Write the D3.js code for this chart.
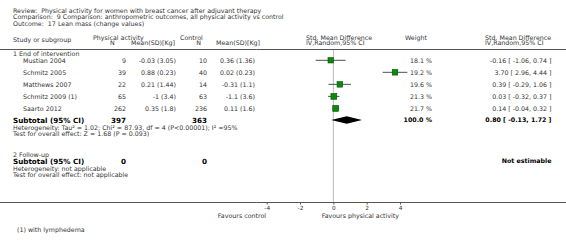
<!DOCTYPE html>
<html>
<head>
<meta charset="utf-8">
<script src="https://cdn.jsdelivr.net/npm/d3@7"></script>
<style>
  body { margin: 0; background: #fff; }
  svg { display: block; font-family: "DejaVu Sans", sans-serif; }
</style>
</head>
<body>
<svg id="chart" width="566" height="245"></svg>
<script>
// study rows
var studies = ["Mustian 2004", "Schmitz 2005", "Matthews 2007", "Schmitz 2009 (1)", "Saarto 2012"];
var paN = [9, 39, 22, 65, 262];
var paMean = ["-0.03 (3.05)", "0.88 (0.23)", "0.21 (1.44)", "-1 (3.4)", "0.35 (1.8)"];
var ctN = [10, 40, 14, 63, 236];
var ctMean = ["0.36 (1.36)", "0.02 (0.23)", "-0.31 (1.1)", "-1.1 (3.6)", "0.11 (1.6)"];
var weights = [18.1, 19.2, 19.6, 21.3, 21.7];
var smd = [-0.16, 3.70, 0.39, 0.03, 0.14];
var ciLow = [-1.06, 2.96, -0.29, -0.32, -0.04];
var ciHigh = [0.74, 4.44, 1.06, 0.37, 0.32];
var ciText = ["-0.16 [ -1.06, 0.74 ]", "3.70 [ 2.96, 4.44 ]", "0.39 [ -0.29, 1.06 ]", "0.03 [ -0.32, 0.37 ]", "0.14 [ -0.04, 0.32 ]"];

// pooled
var total = {paN: 397, ctN: 363, est: 0.80, lo: -0.13, hi: 1.72, text: "0.80 [ -0.13, 1.72 ]"};
var axisTicks = [-4, -2, 0, 2, 4];

var svg = d3.select("#chart");
var ink = "#333";
var base = 6.3;

var x = d3.scaleLinear().domain([-4, 4]).range([266.7, 400]);
var rowY = d3.scaleLinear().domain([0, 4]).range([60.3, 108.4]);

function txt(xp, yp, s, opts) {
    opts = opts || {};
    return svg.append("text")
        .attr("x", xp)
        .attr("y", yp)
        .attr("dy", "0.35em")
        .attr("font-size", opts.size || base)
        .attr("font-weight", opts.bold ? "bold" : "normal")
        .attr("text-anchor", opts.anchor || "start")
        .attr("fill", opts.color || ink)
        .attr("xml:space", "preserve")
        .text(s);
}

// title block
txt(13, 10.8, "Review:  Physical activity for women with breast cancer after adjuvant therapy");
txt(13, 17, "Comparison:  9 Comparison: anthropometric outcomes, all physical activity vs control");
txt(13, 23.3, "Outcome:  17 Lean mass (change values)");

// column headers
txt(13, 39.3, "Study or subgroup");
txt(93, 37.3, "Physical activity");
txt(112.3, 43, "N", {anchor: "middle"});
txt(175, 43, "Mean(SD)[Kg]", {anchor: "end"});
txt(180, 37.3, "Control");
txt(198.7, 43, "N", {anchor: "middle"});
txt(260, 43, "Mean(SD)[Kg]", {anchor: "end"});
txt(306, 37.3, "Std. Mean Difference");
txt(306, 43, "IV,Random,95% CI");
txt(405, 37.3, "Weight");
txt(485, 37.3, "Std. Mean Difference");
txt(485, 43, "IV,Random,95% CI");

svg.append("line")
    .attr("x1", 0).attr("x2", 566)
    .attr("y1", 49.5).attr("y2", 49.5)
    .attr("stroke", "#555").attr("stroke-width", 1);

// zero line
svg.append("line")
    .attr("x1", x(0)).attr("x2", x(0))
    .attr("y1", 50).attr("y2", 202)
    .attr("stroke", "#bbb").attr("stroke-width", 1);

// group 1
txt(13, 53.5, "1 End of intervention");

studies.forEach(function(s, i) {
    var y = rowY(i);
    txt(23, y, s);
    txt(126, y, paN[i], {anchor: "end"});
    txt(176, y, paMean[i], {anchor: "end"});
    txt(207, y, ctN[i], {anchor: "end"});
    txt(255, y, ctMean[i], {anchor: "end"});
    txt(432, y, weights[i].toFixed(1) + " %", {anchor: "end"});
    txt(551.5, y, ciText[i], {anchor: "end"});
});

var rows = svg.append("g");
rows.selectAll("line.ci")
    .data(studies)
    .enter()
    .append("line")
    .attr("class", "ci")
    .attr("x1", function(d, i) { return x(ciLow[i]); })
    .attr("x2", function(d, i) { return x(ciHigh[i]); })
    .attr("y1", function(d, i) { return rowY(i); })
    .attr("y2", function(d, i) { return rowY(i); })
    .attr("stroke", "#222")
    .attr("stroke-width", 0.8);

var boxSize = function(w) { return 12.6 * Math.sqrt(w / 100); };
rows.selectAll("rect")
    .data(studies)
    .enter()
    .append("rect")
    .attr("x", function(d, i) { return x(smd[i]) - boxSize(weights[i]) / 2; })
    .attr("y", function(d, i) { return rowY(i) - boxSize(weights[i]) / 2; })
    .attr("width", function(d, i) { return boxSize(weights[i]); })
    .attr("height", function(d, i) { return boxSize(weights[i]); })
    .attr("fill", "#0a8a0a")
    .attr("stroke", "#064f06")
    .attr("stroke-width", 0.6);

// subtotal group 1
var sy = 120;
txt(13, sy, "Subtotal (95% CI)", {bold: true, size: 7.2, color: "#000"});
txt(126, sy, total.paN, {bold: true, size: 7.2, anchor: "end", color: "#000"});
txt(207, sy, total.ctN, {bold: true, size: 7.2, anchor: "end", color: "#000"});
txt(432, sy, "100.0 %", {bold: true, anchor: "end", color: "#000"});
txt(551.5, sy, total.text, {bold: true, anchor: "end", color: "#000"});

svg.append("path")
    .attr("d", "M" + x(total.lo) + "," + sy +
        "L" + x(total.est) + "," + (sy - 3.8) +
        "L" + x(total.hi) + "," + sy +
        "L" + x(total.est) + "," + (sy + 3.8) + "Z")
    .attr("fill", "#000");

txt(13, 127.4, "Heterogeneity: Tau\u00b2 = 1.02; Chi\u00b2 = 87.93, df = 4 (P<0.00001); I\u00b2 =95%");
txt(13, 133.7, "Test for overall effect: Z = 1.68 (P = 0.093)");

// group 2
txt(13, 154.8, "2 Follow-up");
txt(13, 161.2, "Subtotal (95% CI)", {bold: true, size: 7.2, color: "#000"});
txt(126, 161.2, "0", {bold: true, size: 7.2, anchor: "end", color: "#000"});
txt(207, 161.2, "0", {bold: true, size: 7.2, anchor: "end", color: "#000"});
txt(551.5, 161.2, "Not estimable", {bold: true, anchor: "end", color: "#000"});
txt(13, 168.4, "Heterogeneity: not applicable");
txt(13, 174.5, "Test for overall effect: not applicable");

// axis
svg.append("line")
    .attr("x1", 0).attr("x2", 566)
    .attr("y1", 202.5).attr("y2", 202.5)
    .attr("stroke", "#555").attr("stroke-width", 1);

var ax = svg.append("g")
    .attr("transform", "translate(0,202.5)")
    .call(d3.axisBottom(x).tickValues(axisTicks).tickSize(2).tickPadding(1).tickFormat(d3.format("d")));
ax.select(".domain").remove();
ax.selectAll("line").attr("stroke", "#555");
ax.selectAll("text")
    .attr("font-size", 5.8)
    .attr("font-family", "DejaVu Sans, sans-serif")
    .attr("fill", ink)
    .text(function(d) { return d < 0 ? "-" + Math.abs(d) : d; });

txt(266, 215.5, "Favours control", {anchor: "end"});
txt(399, 215.5, "Favours physical activity", {anchor: "end"});

txt(17, 230, "(1) with lymphedema");
</script>
</body>
</html>
